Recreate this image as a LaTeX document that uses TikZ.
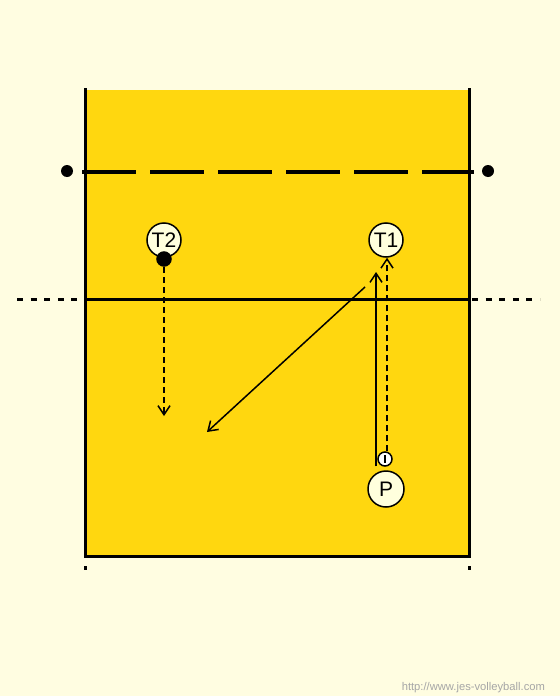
\documentclass[tikz,border=0pt]{standalone}
\usepackage{fontspec}
\setsansfont{Liberation Sans}
\usetikzlibrary{arrows.meta}
\definecolor{paper}{HTML}{FFFDE1}
\definecolor{court}{HTML}{FFD70F}
\definecolor{chip}{HTML}{FFFFDD}
\begin{document}
\begin{tikzpicture}[
    x=0.5pt, y=-0.5pt,
    >={Straight Barb[length=4.5pt, width=6pt]},
    player/.style={draw, line width=0.75pt, circle, fill=chip,
                   minimum size=17pt, inner sep=0pt,
                   font=\sffamily\fontsize{10.5}{12}\selectfont},
    ball/.style={draw, line width=0.75pt, circle, minimum size=7pt,
                 inner sep=0pt},
    courtline/.style={line width=1.5pt},
    move/.style={->, line width=0.75pt},
    dashmove/.style={->, line width=0.75pt, dash pattern=on 3pt off 2pt},
  ]

  % Background and court
  \useasboundingbox[fill=paper] (0,0) rectangle (560,696);
  \fill[court] (85,90) rectangle (469,556);
  \draw[courtline] (85,88) -- (85,556) -- (469,556) -- (469,88);
  \draw[courtline] (85,566) -- (85,570);
  \draw[courtline] (469,566) -- (469,570);

  % Net and posts
  \draw[line width=2pt, dash pattern=on 27pt off 7pt] (82,172) -- (474,172);
  \fill (67,171) circle (3pt);
  \fill (488,171) circle (3pt);

  % Attack line
  \draw[courtline] (85,299) -- (469,299);
  \draw[courtline, dash pattern=on 3pt off 3.8pt] (17,299) -- (82,299);
  \draw[courtline, dash pattern=on 3pt off 3.8pt] (472,299) -- (540,299);

  % Players
  \node[player] at (164,240) (t2) {T2};
  \node[player] at (386,240) (t1) {T1};
  \node[player, minimum size=18pt] at (386,489) (p) {P};
  \node[ball, fill=black] at (164,259) (bigball) {};
  \node[ball, fill=white] at (385,459) (smallball) {};
  \draw[line width=0.6pt] (385,455) -- (385,463);

  % Moves
  \coordinate (t2end) at (164,416);
  \coordinate (diagstart) at (365,287);
  \coordinate (diagend) at (207,432);
  \draw[dashmove] (bigball) -- (t2end);
  \draw[dashmove] (smallball.north -| 387,0) -- (t1.south -| 387,0);
  \draw[move] (p.north -| 376,0) ++(0,-4) -- (376,272);
  \draw[move] (diagstart) -- (diagend);

  % Watermark
  \node[anchor=east, text=black!35, font=\sffamily\fontsize{5.6}{6}\selectfont]
    at (552,688) (site) {http://www.jes-volleyball.com};

\end{tikzpicture}
\end{document}
